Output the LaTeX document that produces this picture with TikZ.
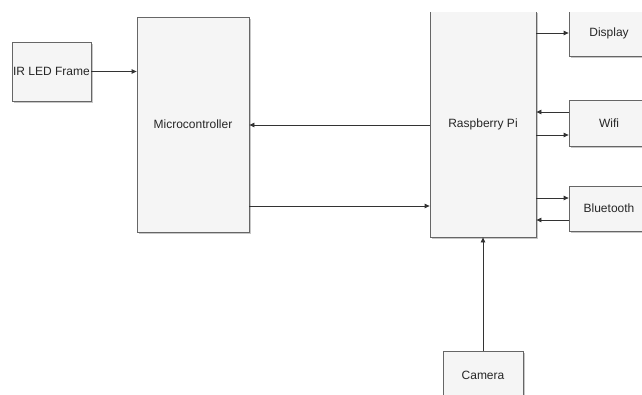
\documentclass[tikz,border=0pt]{standalone}
\usepackage{fontspec}
\setmainfont{Liberation Sans}
\usetikzlibrary{shadows,arrows.meta}
\definecolor{boxfill}{HTML}{F5F5F5}
\definecolor{boxline}{HTML}{666666}
\definecolor{arrline}{HTML}{333333}
\tikzset{
  blk/.style={draw=boxline, fill=boxfill, line width=0.8pt, inner sep=0pt,
    font=\fontsize{12}{14}\selectfont, text=black!85,
    drop shadow={shadow xshift=1.6pt, shadow yshift=-1.6pt, fill=black, opacity=0.22}},
  arr/.style={draw=arrline, line width=0.8pt, -{Triangle[length=5pt,width=4.5pt]}},
}
\begin{document}
\begin{tikzpicture}[x=1pt,y=-1pt]
\useasboundingbox (0,0) rectangle (642,394);
\clip (0,0) rectangle (642,394);
\fill[white] (0,0) rectangle (642,394);
% boxes
\node[blk, minimum width=79pt, minimum height=59pt] (ir) at (51.5,71.5) {IR LED Frame};
\node[blk, minimum width=112pt, minimum height=215pt] (mc) at (193,124.5) {Microcontroller};
\begin{scope}
\clip (0,12) rectangle (642,394);
\node[blk, minimum width=106pt, minimum height=226pt] (rpi) at (483,124) {Raspberry Pi};
\node[blk, minimum width=80pt, minimum height=46pt] (disp) at (609,33) {Display};
\end{scope}
\node[blk, minimum width=80pt, minimum height=46pt] (wifi) at (609,123) {Wifi};
\node[blk, minimum width=80pt, minimum height=45pt] (bt) at (609,208.5) {Bluetooth};
\node[blk, minimum width=80pt, minimum height=48pt] (cam) at (483,375) {Camera};
% connectors
\draw[arr] (ir.east) -- (mc.west |- ir.east);
\draw[arr] (rpi.west |- 0,125) -- (mc.east |- 0,125);
\draw[arr] (mc.east |- 0,206) -- (rpi.west |- 0,206);
\draw[arr] (rpi.east |- disp.west) -- (disp.west);
\draw[arr] (wifi.west |- 0,112) -- (rpi.east |- 0,112);
\draw[arr] (rpi.east |- 0,135) -- (wifi.west |- 0,135);
\draw[arr] (rpi.east |- 0,198) -- (bt.west |- 0,198);
\draw[arr] (bt.west |- 0,220) -- (rpi.east |- 0,220);
\draw[arr] (cam.north) -- (rpi.south);
\end{tikzpicture}
\end{document}
